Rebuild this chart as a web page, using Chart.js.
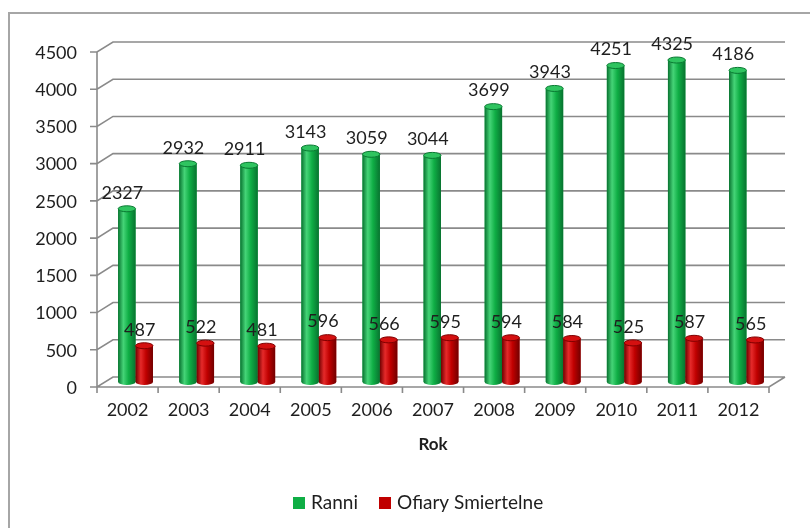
<!DOCTYPE html>
<html>
<head>
<meta charset="utf-8">
<script src="https://cdn.jsdelivr.net/npm/chart.js@4.4.1/dist/chart.umd.min.js"></script>
<style>
	html, body { margin: 0; padding: 0; background: #fff; }
	#wrap { width: 810px; height: 528px; }
</style>
</head>
<body>
<div id="wrap"><canvas id="myChart" width="810" height="528"></canvas></div>
<script>
const years = ['2002', '2003', '2004', '2005', '2006', '2007', '2008', '2009', '2010', '2011', '2012'];
const ranni = [2327, 2932, 2911, 3143, 3059, 3044, 3699, 3943, 4251, 4325, 4186];
const ofiary = [487, 522, 481, 596, 566, 595, 594, 584, 525, 587, 565];
const seriesNames = ['Ranni', 'Ofiary Smiertelne'];
const axisTitle = 'Rok';

const colors = ['#0fae45', '#c00000'];
const shades = [
	{ dark: '#087330', light: '#45d477', cap: '#2fc460', edge: '#0a7a33' },
	{ dark: '#720000', light: '#e52a2a', cap: '#d41010', edge: '#800000' }
];
const font = "Lato, 'Open Sans', sans-serif";
const textColor = '#1e1e1e';
const gridColor = '#8a8a8a';
// half of the 3D depth offset
const dx = 8, dy = 5;

const frame = {
	id: 'frame',
	beforeDraw(chart) {
		const ctx = chart.ctx;
		ctx.save();
		ctx.fillStyle = '#fff';
		ctx.fillRect(0, 0, chart.width, chart.height);
		ctx.strokeStyle = '#a6a6a6';
		ctx.lineWidth = 2;
		ctx.beginPath();
		ctx.moveTo(9, chart.height);
		ctx.lineTo(9, 13);
		ctx.lineTo(chart.width, 13);
		ctx.stroke();
		ctx.restore();
	}
};

const walls = {
	id: 'walls',
	beforeDatasetsDraw(chart) {
		const ctx = chart.ctx;
		const { left, right } = chart.chartArea;
		const y = chart.scales.y;
		const y0 = y.getPixelForValue(0);
		const yMax = y.getPixelForValue(y.max);
		ctx.save();
		ctx.strokeStyle = gridColor;
		ctx.lineWidth = 1.6;
		ctx.beginPath();
		y.ticks.forEach(t => {
			const p = y.getPixelForValue(t.value);
			ctx.moveTo(left - dx - 7, p + dy);
			ctx.lineTo(left - dx, p + dy);
			ctx.lineTo(left + dx, p - dy);
			ctx.lineTo(right + dx, p - dy);
		});
		// front axis
		ctx.moveTo(left - dx, yMax + dy);
		ctx.lineTo(left - dx, y0 + dy);
		// floor
		ctx.lineTo(right - dx, y0 + dy);
		ctx.lineTo(right + dx, y0 - dy);
		const step = (right - left) / years.length;
		for (let i = 0; i <= years.length; i++) {
			const px = left - dx + i * step;
			ctx.moveTo(px, y0 + dy);
			ctx.lineTo(px, y0 + dy + 6);
		}
		ctx.stroke();
		ctx.restore();
	}
};

const cylinders = {
	id: 'cylinders',
	afterDatasetsDraw(chart) {
		const ctx = chart.ctx;
		ctx.save();
		chart.data.datasets.forEach((ds, di) => {
			const s = shades[di];
			chart.getDatasetMeta(di).data.forEach((el, i) => {
				const w = el.width, x0 = el.x - w / 2, top = el.y, base = el.base, ry = 3;
				const g = ctx.createLinearGradient(x0, 0, x0 + w, 0);
				g.addColorStop(0, s.dark);
				g.addColorStop(0.3, s.light);
				g.addColorStop(0.6, colors[di]);
				g.addColorStop(1, s.dark);
				ctx.fillStyle = g;
				ctx.beginPath();
				ctx.moveTo(x0, top);
				ctx.lineTo(x0, base);
				ctx.ellipse(el.x, base, w / 2, ry, 0, Math.PI, 0, true);
				ctx.lineTo(x0 + w, top);
				ctx.ellipse(el.x, top, w / 2, ry, 0, 0, Math.PI, false);
				ctx.closePath();
				ctx.fill();
				ctx.beginPath();
				ctx.ellipse(el.x, top, w / 2, ry, 0, 0, Math.PI * 2);
				ctx.fillStyle = s.cap;
				ctx.fill();
				ctx.strokeStyle = s.edge;
				ctx.lineWidth = 1;
				ctx.stroke();
			});
		});
		ctx.restore();
	}
};

const valueLabels = {
	id: 'valueLabels',
	afterDatasetsDraw(chart) {
		const ctx = chart.ctx;
		ctx.save();
		ctx.font = '18px ' + font;
		ctx.fillStyle = textColor;
		ctx.textAlign = 'center';
		ctx.textBaseline = 'bottom';
		chart.data.datasets.forEach((ds, di) => {
			chart.getDatasetMeta(di).data.forEach((el, i) => {
				ctx.fillText(String(ds.data[i]), el.x - 4.5, el.y - 7);
			});
		});
		ctx.restore();
	}
};

const legendAndTitle = {
	id: 'legendAndTitle',
	afterDraw(chart) {
		const ctx = chart.ctx;
		const { left, right } = chart.chartArea;
		ctx.save();
		ctx.fillStyle = textColor;
		ctx.font = 'bold 17px ' + font;
		ctx.textAlign = 'center';
		ctx.textBaseline = 'middle';
		ctx.fillText(axisTitle, (left + right) / 2 - 8, 445);
		ctx.font = '19px ' + font;
		ctx.textAlign = 'left';
		let x = 293;
		seriesNames.forEach((name, i) => {
			ctx.fillStyle = colors[i];
			ctx.fillRect(x, 497, 12, 12);
			ctx.fillStyle = textColor;
			ctx.fillText(name, x + 18, 503);
			x += 86;
		});
		ctx.restore();
	}
};

const ctx = document.getElementById('myChart').getContext('2d');
const myChart = new Chart(ctx, {
	type: 'bar',
	data: {
		labels: years,
		datasets: [
			{ label: seriesNames[0], data: ranni, backgroundColor: colors[0], barPercentage: 1, categoryPercentage: 0.57 },
			{ label: seriesNames[1], data: ofiary, backgroundColor: colors[1], barPercentage: 1, categoryPercentage: 0.57 }
		]
	},
	options: {
		responsive: false,
		animation: false,
		devicePixelRatio: 1,
		layout: { padding: { top: 47, right: 33, left: 0, bottom: 0 } },
		plugins: {
			legend: { display: false },
			tooltip: { enabled: false }
		},
		scales: {
			x: {
				grid: { display: false, drawTicks: false },
				border: { display: false },
				ticks: { font: { family: font, size: 18 }, color: textColor, padding: 17, labelOffset: -8 },
				afterFit: s => { s.height = 146; }
			},
			y: {
				min: 0,
				max: 4500,
				grid: { display: false, drawTicks: false },
				border: { display: false },
				ticks: { stepSize: 500, font: { family: font, size: 18 }, color: textColor, padding: 28, labelOffset: 6, callback: v => String(v) },
				afterFit: s => { s.width = 105; }
			}
		}
	},
	plugins: [frame, walls, cylinders, valueLabels, legendAndTitle]
});
</script>
</body>
</html>
